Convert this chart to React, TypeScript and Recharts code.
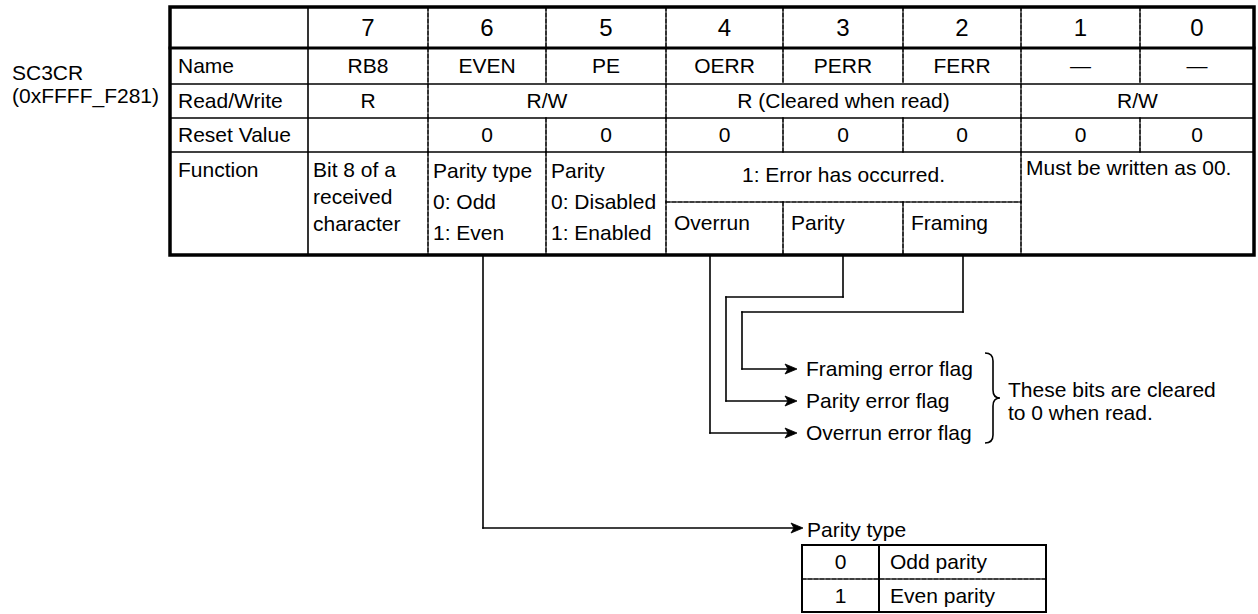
import React from 'react';
import { ScatterChart, XAxis, YAxis, ReferenceLine, ReferenceArea, Scatter } from 'recharts';

const W = 1258;
const H = 614;
const FONT = '"Liberation Sans", Arial, Helvetica, sans-serif';
const INK = '#000';

// ---- register content ----
const REGISTER_NAME = 'SC3CR';
const REGISTER_ADDRESS = '(0xFFFF_F281)';
const ROW_LABELS = ['Name', 'Read/Write', 'Reset Value', 'Function'];
const BIT_NUMBERS = ['7', '6', '5', '4', '3', '2', '1', '0'];
const BIT_NAMES = ['RB8', 'EVEN', 'PE', 'OERR', 'PERR', 'FERR', '—', '—'];
const ACCESS_TEXT = ['R', 'R/W', 'R (Cleared when read)', 'R/W'];
const ACCESS_SPAN = [1, 2, 3, 2];
const RESET_VALUES = ['', '0', '0', '0', '0', '0', '0', '0'];
const FUNCTION_TEXT = [
  ['Bit 8 of a', 'received', 'character'],
  ['Parity type', '0: Odd', '1: Even'],
  ['Parity', '0: Disabled', '1: Enabled'],
  ['1: Error has occurred.'],
  ['Must be written as 00.'],
];
const FUNCTION_SPAN = [1, 1, 1, 3, 2];
const ERROR_KINDS = ['Overrun', 'Parity', 'Framing'];
const ERROR_FLAGS = ['Overrun error flag', 'Parity error flag', 'Framing error flag'];
const CLEAR_NOTE = ['These bits are cleared', 'to 0 when read.'];
const PARITY_TITLE = 'Parity type';
const PARITY_VALUES = ['0', '1'];
const PARITY_MEANINGS = ['Odd parity', 'Even parity'];

// ---- layout (pixels, axes are 1:1 with the page) ----
const COL_X = [170, 308, 428, 546, 666, 783, 903, 1021, 1140, 1254];
const ROW_Y = [7, 48, 84, 118, 152, 255];
const ROW_MID = [28, 66, 101, 135];
const SPLIT_Y = 202;
const FUNC_ALIGN = ['start', 'start', 'start', 'middle', 'start'];
const FUNC_LINE_Y = [[170, 197, 224], [171, 202, 233], [171, 202, 233], [175], [168]];
const ERROR_Y = 223;
const FLAG_Y = [433, 401, 369];
const FLAG_TIP = 797;
const FLAG_TEXT_X = 806;
const NOTE_X = 1008;
const NOTE_Y = [390, 413];
const PARITY_BOX = { x1: 802, x2: 1046, y1: 545, y2: 612, col: 879, mid: 579 };
const PARITY_TIP = { x: 803, y: 528 };

const CONNECTORS = [
  [[483, ROW_Y[5]], [483, PARITY_TIP.y], [PARITY_TIP.x - 9, PARITY_TIP.y]],
  [[710, ROW_Y[5]], [710, FLAG_Y[0]], [FLAG_TIP - 9, FLAG_Y[0]]],
  [[843, ROW_Y[5]], [843, 297], [726, 297], [726, FLAG_Y[1]], [FLAG_TIP - 9, FLAG_Y[1]]],
  [[963, ROW_Y[5]], [963, 312], [742, 312], [742, FLAG_Y[2]], [FLAG_TIP - 9, FLAG_Y[2]]],
];

type Anchor = 'start' | 'middle' | 'end';
type TextItem = { x: number; y: number; text: string; size: number; anchor: Anchor };
type Seg = { x1: number; y1: number; x2: number; y2: number; w: number; dash?: string };

const colLeft = (bit: number) => COL_X[bit + 1];
const colRight = (bit: number) => COL_X[bit + 2];
const boundaries = (spans: number[]) => {
  const out: number[] = [];
  let acc = 0;
  spans.slice(0, -1).forEach((s) => {
    acc += s;
    out.push(acc);
  });
  return out;
};
const spanStart = (spans: number[], i: number) => spans.slice(0, i).reduce((a, b) => a + b, 0);

function buildTexts(): TextItem[] {
  const t: TextItem[] = [];
  t.push({ x: 12, y: 73, text: REGISTER_NAME, size: 21, anchor: 'start' });
  t.push({ x: 12, y: 96, text: REGISTER_ADDRESS, size: 21, anchor: 'start' });
  ROW_LABELS.forEach((label, i) => {
    const y = i < 3 ? ROW_MID[i + 1] : FUNC_LINE_Y[0][0];
    t.push({ x: COL_X[0] + 8, y, text: label, size: 21, anchor: 'start' });
  });
  BIT_NUMBERS.forEach((b, i) => {
    t.push({ x: (colLeft(i) + colRight(i)) / 2, y: ROW_MID[0], text: b, size: 24, anchor: 'middle' });
  });
  BIT_NAMES.forEach((n, i) => {
    t.push({ x: (colLeft(i) + colRight(i)) / 2, y: ROW_MID[1], text: n, size: 21, anchor: 'middle' });
  });
  ACCESS_TEXT.forEach((a, i) => {
    const s = spanStart(ACCESS_SPAN, i);
    const e = s + ACCESS_SPAN[i] - 1;
    t.push({ x: (colLeft(s) + colRight(e)) / 2, y: ROW_MID[2], text: a, size: 21, anchor: 'middle' });
  });
  RESET_VALUES.forEach((v, i) => {
    if (v) t.push({ x: (colLeft(i) + colRight(i)) / 2, y: ROW_MID[3], text: v, size: 21, anchor: 'middle' });
  });
  FUNCTION_TEXT.forEach((lines, i) => {
    const s = spanStart(FUNCTION_SPAN, i);
    const e = s + FUNCTION_SPAN[i] - 1;
    const anchor = FUNC_ALIGN[i] as Anchor;
    const x = anchor === 'middle' ? (colLeft(s) + colRight(e)) / 2 : colLeft(s) + 5;
    lines.forEach((line, j) => t.push({ x, y: FUNC_LINE_Y[i][j], text: line, size: 21, anchor }));
  });
  const errStart = spanStart(FUNCTION_SPAN, 3);
  ERROR_KINDS.forEach((k, i) => {
    t.push({ x: colLeft(errStart + i) + 8, y: ERROR_Y, text: k, size: 21, anchor: 'start' });
  });
  ERROR_FLAGS.forEach((f, i) => t.push({ x: FLAG_TEXT_X, y: FLAG_Y[i], text: f, size: 21, anchor: 'start' }));
  CLEAR_NOTE.forEach((n, i) => t.push({ x: NOTE_X, y: NOTE_Y[i], text: n, size: 21, anchor: 'start' }));
  t.push({ x: PARITY_TIP.x + 4, y: PARITY_TIP.y + 2, text: PARITY_TITLE, size: 21, anchor: 'start' });
  const rowH = (PARITY_BOX.y2 - PARITY_BOX.y1) / PARITY_VALUES.length;
  PARITY_VALUES.forEach((v, i) => {
    const y = PARITY_BOX.y1 + rowH * (i + 0.5);
    t.push({ x: (PARITY_BOX.x1 + PARITY_BOX.col) / 2, y, text: v, size: 21, anchor: 'middle' });
    t.push({ x: PARITY_BOX.col + 11, y, text: PARITY_MEANINGS[i], size: 21, anchor: 'start' });
  });
  return t;
}

function buildSegments(): Seg[] {
  const s: Seg[] = [];
  const L = COL_X[0];
  const R = COL_X[COL_X.length - 1];
  s.push({ x1: L, y1: ROW_Y[1], x2: R, y2: ROW_Y[1], w: 3 });
  ROW_Y.slice(2, 5).forEach((y) => s.push({ x1: L, y1: y, x2: R, y2: y, w: 1.6 }));
  s.push({ x1: COL_X[1], y1: ROW_Y[0], x2: COL_X[1], y2: ROW_Y[5], w: 1.6 });
  const every = BIT_NUMBERS.map(() => 1);
  const rowSpans = [every, every, ACCESS_SPAN, every, FUNCTION_SPAN];
  rowSpans.forEach((spans, r) => {
    boundaries(spans).forEach((b) => {
      s.push({ x1: colLeft(b), y1: ROW_Y[r], x2: colLeft(b), y2: ROW_Y[r + 1], w: 1.6, dash: '4 2' });
    });
  });
  const errStart = spanStart(FUNCTION_SPAN, 3);
  const errEnd = errStart + FUNCTION_SPAN[3];
  s.push({ x1: colLeft(errStart), y1: SPLIT_Y, x2: colLeft(errEnd), y2: SPLIT_Y, w: 1.6, dash: '4 2' });
  for (let b = errStart + 1; b < errEnd; b++) {
    s.push({ x1: colLeft(b), y1: SPLIT_Y, x2: colLeft(b), y2: ROW_Y[5], w: 1.6, dash: '4 2' });
  }
  CONNECTORS.forEach((pts) => {
    for (let i = 0; i < pts.length - 1; i++) {
      s.push({ x1: pts[i][0], y1: pts[i][1], x2: pts[i + 1][0], y2: pts[i + 1][1], w: 1.6 });
    }
  });
  s.push({ x1: PARITY_BOX.col, y1: PARITY_BOX.y1, x2: PARITY_BOX.col, y2: PARITY_BOX.y2, w: 2 });
  s.push({ x1: PARITY_BOX.x1, y1: PARITY_BOX.mid, x2: PARITY_BOX.x2, y2: PARITY_BOX.mid, w: 1.6, dash: '4 2' });
  return s;
}

const texts = buildTexts();
const segments = buildSegments();
const arrowTips = [
  { x: PARITY_TIP.x, y: PARITY_TIP.y },
  ...FLAG_Y.map((y) => ({ x: FLAG_TIP, y })),
];
const brace = [{ x: 993, y: 398 }];

const renderText = (p: any) => {
  const d = p.payload as TextItem;
  return (
    <text x={p.cx} y={p.cy} dy="0.35em" textAnchor={d.anchor} fontSize={d.size} fontFamily={FONT} fill={INK}>
      {d.text}
    </text>
  );
};

const renderArrow = (p: any) => (
  <path d={`M${p.cx},${p.cy} l-12,-5 l3,5 l-3,5 Z`} fill={INK} stroke={INK} strokeWidth={0.8} strokeLinejoin="miter" />
);

const renderBrace = (p: any) => {
  const x = p.cx;
  const y = p.cy;
  const d = `M${x - 8},${y - 45} Q${x},${y - 45} ${x},${y - 37} L${x},${y - 8} Q${x},${y} ${x + 7},${y}` +
    ` Q${x},${y} ${x},${y + 8} L${x},${y + 37} Q${x},${y + 45} ${x - 8},${y + 45}`;
  return <path d={d} fill="none" stroke={INK} strokeWidth={1.6} />;
};

export default function App() {
  return (
    <div style={{ width: W, height: H, background: '#fff' }}>
      <style>{'body{margin:0}'}</style>
      <ScatterChart width={W} height={H} margin={{ top: 0, right: 0, bottom: 0, left: 0 }}>
        <XAxis type="number" dataKey="x" domain={[0, W]} allowDataOverflow hide />
        <YAxis type="number" dataKey="y" domain={[0, H]} allowDataOverflow reversed hide />
        <ReferenceArea
          x1={COL_X[0]}
          x2={COL_X[COL_X.length - 1]}
          y1={ROW_Y[0]}
          y2={ROW_Y[5]}
          fill="none"
          stroke={INK}
          strokeWidth={3.5}
          ifOverflow="visible"
        />
        <ReferenceArea
          x1={PARITY_BOX.x1}
          x2={PARITY_BOX.x2}
          y1={PARITY_BOX.y1}
          y2={PARITY_BOX.y2}
          fill="none"
          stroke={INK}
          strokeWidth={2}
          ifOverflow="visible"
        />
        {segments.map((g, i) => (
          <ReferenceLine
            key={`seg-${i}`}
            segment={[{ x: g.x1, y: g.y1 }, { x: g.x2, y: g.y2 }]}
            stroke={INK}
            strokeWidth={g.w}
            strokeDasharray={g.dash}
            strokeLinecap="square"
            ifOverflow="visible"
          />
        ))}
        <Scatter data={arrowTips} isAnimationActive={false} shape={renderArrow} />
        <Scatter data={brace} isAnimationActive={false} shape={renderBrace} />
        <Scatter data={texts} isAnimationActive={false} shape={renderText} />
      </ScatterChart>
    </div>
  );
}
